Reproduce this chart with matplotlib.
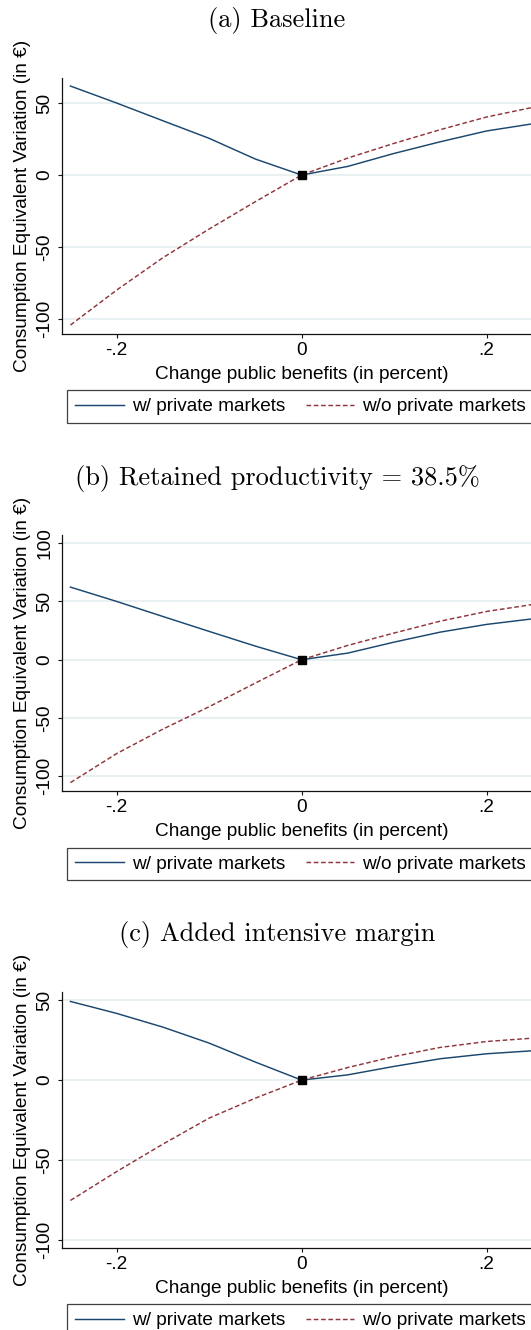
import matplotlib
matplotlib.use("Agg")
import matplotlib.pyplot as plt
from matplotlib.ticker import FixedLocator, FuncFormatter
from matplotlib.lines import Line2D

# ---------------- data ----------------
benefit_change = [-0.25, -0.20, -0.15, -0.10, -0.05, 0.00, 0.05, 0.10, 0.15, 0.20, 0.25]

a_with_private = [61.8, 50.0, 37.7, 25.5, 11.1, 0.0, 6.0, 15.0, 23.1, 30.6, 35.6]
a_without_private = [-104.2, -79.9, -57.4, -37.5, -18.5, 0.0, 11.8, 22.0, 31.5, 40.3, 47.0]

b_with_private = [62.3, 50.0, 37.1, 24.3, 11.7, 0.0, 5.7, 15.1, 23.7, 30.3, 35.1]
b_without_private = [-105.4, -80.5, -59.5, -40.3, -20.0, 0.0, 12.3, 22.9, 33.1, 41.4, 47.4]

c_with_private = [49.3, 41.8, 33.2, 23.2, 11.3, 0.0, 3.3, 8.6, 13.4, 16.5, 18.4]
c_without_private = [-75.4, -57.3, -40.1, -23.8, -11.3, 0.0, 7.9, 14.8, 20.5, 24.2, 26.3]

baseline_x = [0.0]
baseline_y = [0.0]

panel_titles = ["(a) Baseline", "(b) Retained productivity = 38.5%", "(c) Added intensive margin"]
series_labels = ["w/ private markets", "w/o private markets"]
x_label = "Change public benefits (in percent)"
y_label = "Consumption Equivalent Variation (in \u20ac)"
x_ticks = [-0.2, 0.0, 0.2]
y_ticks_a = [-100, -50, 0, 50]
y_ticks_b = [-100, -50, 0, 50, 100]
y_ticks_c = [-100, -50, 0, 50]

# ---------------- layout ----------------
W, H, DPI = 531, 1330, 100
BLUE = "#1a476f"
MAROON = "#90353b"
GRID = "#e3ecee"
SANS = ["Liberation Sans", "DejaVu Sans"]
SERIF = ["cmr10", "DejaVu Serif"]
FS = 13.7

plt.rcParams["font.family"] = SANS
plt.rcParams["axes.unicode_minus"] = False

fig = plt.figure(figsize=(W / DPI, H / DPI), dpi=DPI)

AX_LEFT, AX_RIGHT = 62.3, 540.9
panels = [
    dict(top=77.7, bottom=333.7, ylim=(-110.2, 67.6), yt=y_ticks_a,
         w=a_with_private, wo=a_without_private),
    dict(top=535.0, bottom=791.0, ylim=(-112.6, 107.0), yt=y_ticks_b,
         w=b_with_private, wo=b_without_private),
    dict(top=991.7, bottom=1247.7, ylim=(-105.0, 55.4), yt=y_ticks_c,
         w=c_with_private, wo=c_without_private),
]


def fmt_x(v, _):
    if abs(v) < 1e-12:
        return "0"
    s = f"{v:g}"
    return s.replace("0.", ".")


def fmt_y(v, _):
    return f"{v:g}"


def fx(px):
    return px / W


def fy(py):
    return 1 - py / H


for i, p in enumerate(panels):
    ax = fig.add_axes([fx(AX_LEFT), fy(p["bottom"]), (AX_RIGHT - AX_LEFT) / W,
                       (p["bottom"] - p["top"]) / H])
    ax.plot(benefit_change, p["w"], color=BLUE, lw=1.05, solid_joinstyle="round",
            label=series_labels[0], zorder=3)
    ax.plot(benefit_change, p["wo"], color=MAROON, lw=1.05, ls=(0, (3.2, 1.8)),
            label=series_labels[1], zorder=3)
    ax.plot(baseline_x, baseline_y, ls="none", marker="s", ms=5.6, color="black", zorder=5)

    ax.set_xlim(-0.2588, 0.2588)
    ax.set_ylim(*p["ylim"])
    ax.xaxis.set_major_locator(FixedLocator(x_ticks))
    ax.yaxis.set_major_locator(FixedLocator(p["yt"]))
    ax.xaxis.set_major_formatter(FuncFormatter(fmt_x))
    ax.yaxis.set_major_formatter(FuncFormatter(fmt_y))

    for s in ("top", "right"):
        ax.spines[s].set_visible(False)
    for s in ("left", "bottom"):
        ax.spines[s].set_linewidth(0.9)
        ax.spines[s].set_color("#111111")

    ax.tick_params(direction="out", length=3.0, width=0.8, color="#111111",
                   labelsize=FS, labelcolor="black")
    ax.tick_params(axis="x", pad=3.0)
    ax.tick_params(axis="y", pad=3.5, labelrotation=90)
    for lab in ax.get_yticklabels():
        lab.set_va("center")
        lab.set_ha("right")

    ax.yaxis.grid(True, color=GRID, lw=1.1)
    ax.xaxis.grid(False)
    ax.set_axisbelow(True)

    # titles, axis labels
    fig.text(fx(277), fy(p["top"] - 57), panel_titles[i], family=SERIF, fontsize=19,
             ha="center", va="center")
    fig.text(fx(23), fy((p["top"] + p["bottom"]) / 2), y_label, rotation=90,
             fontsize=FS, ha="center", va="center")
    fig.text(fx(301.5), fy(p["bottom"] + 40.5), x_label, fontsize=FS,
             ha="center", va="center")

    handles = [Line2D([], [], color=BLUE, lw=1.05),
               Line2D([], [], color=MAROON, lw=1.05, ls=(0, (3.2, 1.8)))]
    leg = ax.legend(handles, series_labels, loc="center",
                    bbox_to_anchor=(fx(300.5), fy(p["bottom"] + 58 + 15)),
                    bbox_transform=fig.transFigure, ncol=2, frameon=True,
                    fancybox=False, fontsize=FS, handlelength=2.55,
                    handletextpad=0.42, columnspacing=1.1, borderpad=0.4,
                    borderaxespad=0.0)
    fr = leg.get_frame()
    fr.set_edgecolor("#111111")
    fr.set_linewidth(0.9)
    fr.set_facecolor("white")

fig.savefig("out.png", dpi=DPI)
